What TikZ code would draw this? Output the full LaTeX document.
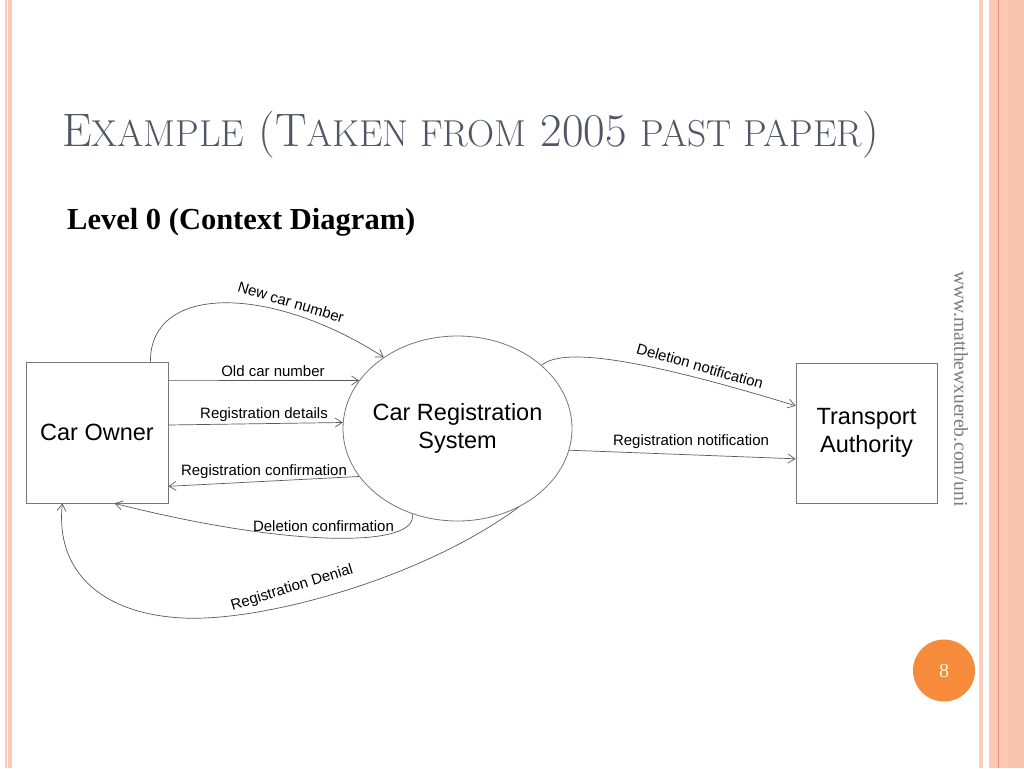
\documentclass[tikz,border=0pt]{standalone}
\usepackage{fontspec}
\newfontfamily\arialf{Liberation Sans}
\newfontfamily\timesf{Liberation Serif}
\usetikzlibrary{arrows.meta,shapes.geometric}
\definecolor{pinkA}{HTML}{FBCDBC}
\definecolor{pinkB}{HTML}{FBC9B5}
\definecolor{pinkC}{HTML}{FAC3AE}
\definecolor{pinkline}{HTML}{E8937A}
\definecolor{titlec}{HTML}{505867}
\definecolor{boxc}{HTML}{777777}
\definecolor{linec}{HTML}{5A5A5A}
\definecolor{urlc}{HTML}{7A7A7A}
\definecolor{pgorange}{HTML}{F68B3B}
\definecolor{pgtext}{HTML}{FFF4E0}
\newcommand\capB[1]{{\fontsize{37.5}{38}\selectfont #1}}
\begin{document}
\begin{tikzpicture}[x=1pt,y=-1pt,
  box/.style={draw=boxc, line width=0.8pt, minimum width=142pt, minimum height=141pt,
    inner sep=0pt, font=\arialf\fontsize{23.5}{28}\selectfont, align=center},
  flow/.style={draw=linec, line width=0.7pt, -{Straight Barb[length=7pt,width=9pt]}},
  lbl/.style={font=\arialf\fontsize{15}{18}\selectfont, inner sep=0pt},
]
\fill[white] (0,0) rectangle (1024,768);
\useasboundingbox (0,0) rectangle (1024,768);
% border stripes
\fill[pinkA] (5,0) rectangle (6.6,768);
\fill[pinkB] (8,0) rectangle (12,768);
\fill[pinkA] (978.5,0) rectangle (983.3,768);
\fill[pinkB] (989.3,0) rectangle (1024,768);
\fill[pinkC] (1008.3,0) rectangle (1024,768);
\draw[pinkline, line width=1.2pt] (998.3,0) -- (998.3,768);
% title
\node[anchor=base west, inner sep=0pt, text=titlec, font=\fontsize{47}{47}\selectfont] (title) at (62,146)
  {E\capB{XAMPLE} (T\capB{AKEN FROM} 2005 \capB{PAST PAPER})};
\node[anchor=base west, inner sep=0pt, font=\timesf\bfseries\fontsize{30.5}{30.5}\selectfont] (level) at (67,229)
  {Level 0 (Context Diagram)};
% url and page number
\node[rotate=-90, inner sep=0pt, text=urlc, font=\timesf\fontsize{19.5}{19.5}\selectfont] (url) at (961,389) {www.matthewxuereb.com/uni};
\node[circle, fill=pgorange, minimum size=62pt, inner sep=0pt, text=pgtext,
  font=\timesf\fontsize{20}{20}\selectfont] (pg) at (944,670.5) {8};
% nodes
\node[box] (co) at (97,432.5) {Car Owner};
\node[box, minimum width=141pt, minimum height=140pt] (ta) at (866.5,433) {Transport\\Authority};
\node[ellipse, draw=boxc, line width=0.8pt, minimum width=229pt, minimum height=185pt, inner sep=0pt,
  label={[font=\arialf\fontsize{23.5}{28}\selectfont, align=center]center:Car Registration\\System}] (crs) at (457.5,428.5) {};
% flows
\draw[flow] (co.53) .. controls (150,284) and (270,284) .. (crs.136.6);
\draw[flow] (co.36) -- (crs.154);
\draw[flow] (co.6.8) -- (crs.177.7);
\draw[flow] (crs.206.9) -- (co.-37.3);
\draw[flow] (crs.242.8) .. controls (420,548) and (290,548) .. (co.-76.4);
\draw[flow] (crs.308.4) .. controls (420,580) and (260,622) .. (183,618)
  .. controls (100,614) and (55,570) .. (co.-116.2);
\draw[flow] (crs.37) .. controls (560,350) and (620,352) .. (ta.159.8);
\draw[flow] (crs.349.7) -- (ta.200.2);
% labels
\node[lbl, rotate=-17] (l1) at (291,302) {New car number};
\node[lbl] (l2) at (273,371) {Old car number};
\node[lbl] (l3) at (264,415) {Registration details};
\node[lbl] (l4) at (264,471.5) {Registration confirmation};
\node[lbl] (l5) at (323.5,526) {Deletion confirmation};
\node[lbl, rotate=17] (l6) at (292,588) {Registration Denial};
\node[lbl, rotate=-16] (l7) at (700,366) {Deletion notification};
\node[lbl] (l8) at (691,441.5) {Registration notification};
\end{tikzpicture}
\end{document}
